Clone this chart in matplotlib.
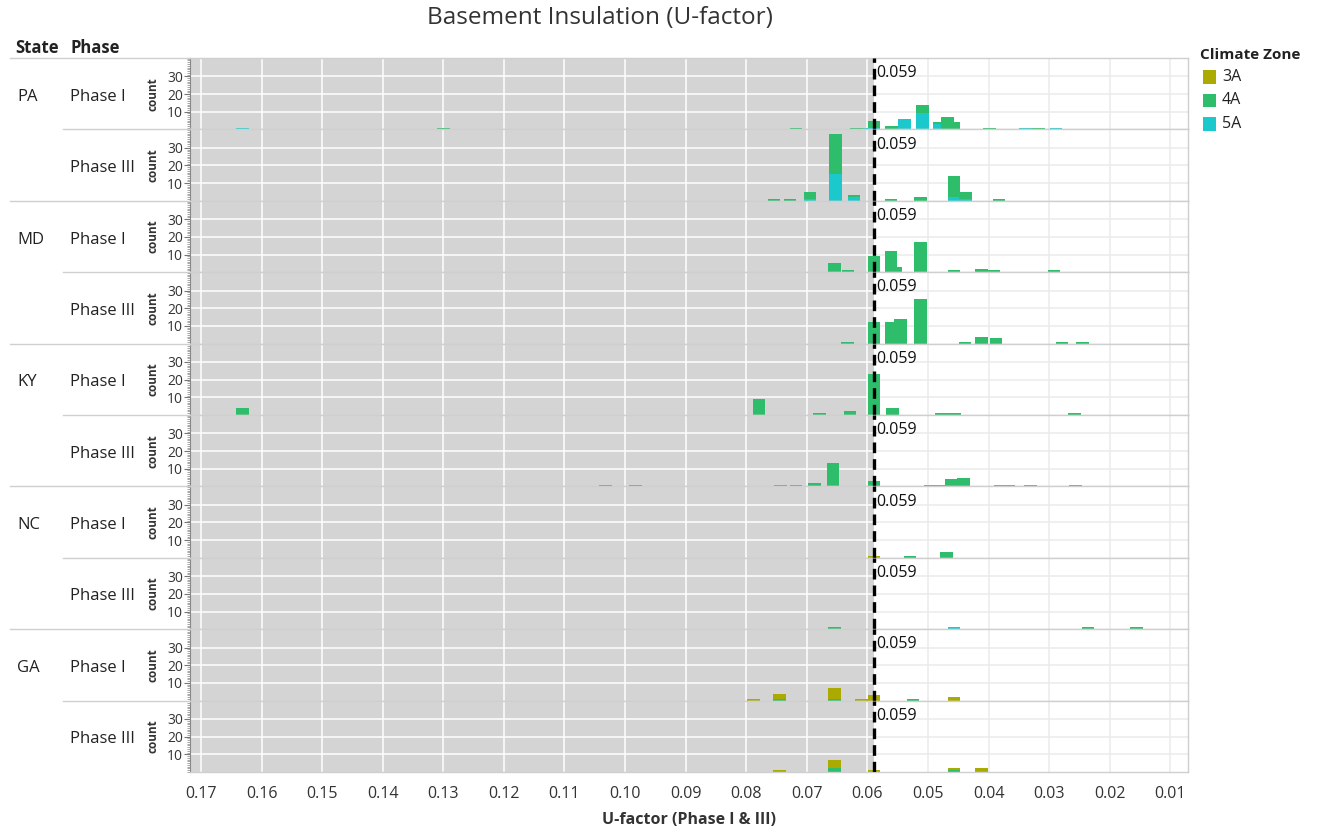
import matplotlib
matplotlib.use("Agg")
import matplotlib.pyplot as plt
import matplotlib.patches as mpatches
from matplotlib.lines import Line2D
from matplotlib.ticker import FixedLocator, MultipleLocator

plt.rcParams["font.family"] = ["Open Sans", "DejaVu Sans"]

INK = "#333333"
SHADE = "#D4D4D4"
GRID_LIGHT = "#EBEBEB"
SEP = "#CFCFCF"

ZONES = ["3A", "4A", "5A"]
ZONE_COLORS = {"3A": "#ABAA00", "4A": "#2DBD6B", "5A": "#1BC8CC"}
STACK_ORDER = ["5A", "4A", "3A"]

STATES = ["PA", "MD", "KY", "NC", "GA"]
PHASES = ["Phase I", "Phase III"]
X_TICKS = [0.17, 0.16, 0.15, 0.14, 0.13, 0.12, 0.11, 0.10, 0.09,
           0.08, 0.07, 0.06, 0.05, 0.04, 0.03, 0.02, 0.01]
Y_TICKS = [10, 20, 30]
THRESHOLD = 0.059

# (U-factor bin, climate zone, count)
pa_phase1 = [(0.1631, "5A", 1), (0.1300, "4A", 1), (0.0718, "4A", 1),
             (0.0618, "4A", 1), (0.0604, "5A", 1),
             (0.0589, "5A", 1), (0.0589, "4A", 4), (0.0560, "4A", 2),
             (0.0539, "5A", 6), (0.0509, "5A", 9), (0.0509, "4A", 5),
             (0.0482, "5A", 3), (0.0482, "4A", 1), (0.0468, "4A", 7),
             (0.0458, "4A", 4), (0.0398, "4A", 1), (0.0339, "5A", 1),
             (0.0318, "4A", 1), (0.0289, "5A", 1)]
pa_phase3 = [(0.0754, "4A", 1), (0.0728, "4A", 1),
             (0.0695, "5A", 1), (0.0695, "4A", 4),
             (0.0653, "5A", 15), (0.0653, "4A", 23),
             (0.0622, "5A", 2), (0.0622, "4A", 1),
             (0.0561, "4A", 1), (0.0513, "4A", 2),
             (0.0457, "5A", 2), (0.0457, "4A", 12),
             (0.0438, "5A", 1), (0.0438, "4A", 4), (0.0383, "4A", 1)]
md_phase1 = [(0.0654, "4A", 5), (0.0632, "4A", 1), (0.0589, "4A", 9),
             (0.0561, "4A", 12), (0.0553, "4A", 3), (0.0513, "4A", 17),
             (0.0457, "4A", 1), (0.0412, "4A", 2), (0.0391, "4A", 1),
             (0.0292, "4A", 1)]
md_phase3 = [(0.0633, "4A", 1), (0.0589, "4A", 12), (0.0561, "4A", 12),
             (0.0546, "4A", 14), (0.0513, "4A", 25), (0.0439, "4A", 1),
             (0.0412, "4A", 4), (0.0388, "4A", 3), (0.0279, "4A", 1),
             (0.0245, "4A", 1)]
ky_phase1 = [(0.1631, "4A", 4), (0.0779, "4A", 9), (0.0679, "4A", 1),
             (0.0629, "4A", 2), (0.0589, "4A", 23), (0.0559, "4A", 4),
             (0.0478, "4A", 1), (0.0456, "4A", 1), (0.0258, "4A", 1)]
ky_phase3 = [(0.1032, "4A", 1), (0.0983, "4A", 1), (0.0743, "4A", 1),
             (0.0718, "4A", 1), (0.0687, "4A", 2), (0.0657, "4A", 13),
             (0.0589, "4A", 3), (0.0497, "4A", 1), (0.0483, "4A", 1),
             (0.0461, "4A", 4), (0.0441, "4A", 5), (0.0381, "4A", 1),
             (0.0367, "4A", 1), (0.0331, "4A", 1), (0.0257, "4A", 1)]
nc_phase1 = [(0.0589, "3A", 1), (0.0530, "4A", 1), (0.0470, "4A", 3)]
nc_phase3 = [(0.0654, "4A", 1), (0.0457, "5A", 1), (0.0236, "4A", 1),
             (0.0156, "4A", 1)]
ga_phase1 = [(0.0788, "3A", 1), (0.0745, "4A", 1), (0.0745, "3A", 3),
             (0.0654, "4A", 1), (0.0654, "3A", 6), (0.0610, "3A", 1),
             (0.0589, "3A", 3), (0.0525, "4A", 1), (0.0457, "3A", 2)]
ga_phase3 = [(0.0745, "3A", 1), (0.0654, "4A", 2), (0.0654, "3A", 5),
             (0.0589, "3A", 1), (0.0457, "4A", 1), (0.0457, "3A", 1),
             (0.0412, "3A", 2)]

PANELS = [pa_phase1, pa_phase3, md_phase1, md_phase3, ky_phase1,
          ky_phase3, nc_phase1, nc_phase3, ga_phase1, ga_phase3]

W, H = 1317, 833
XMIN, XMAX = 0.1718, 0.0071
YMAX = 40.4
BAR_W = 0.0021


def fx(px):
    return px / W


def fy(py):
    return 1 - py / H


fig = plt.figure(figsize=(W / 100, H / 100), dpi=100)
fig.patch.set_facecolor("white")

top_px, bot_px = 58, 772
left_px, right_px = 190, 1188
ph = (bot_px - top_px) / len(PANELS)

axes = []
for i, recs in enumerate(PANELS):
    y0 = top_px + ph * (i + 1)
    ax = fig.add_axes([fx(left_px), fy(y0), (right_px - left_px) / W, ph / H])
    axes.append(ax)
    ax.set_xlim(XMIN, XMAX)
    ax.set_ylim(0, YMAX)
    ax.axvspan(XMIN, THRESHOLD, color=SHADE, zorder=0, lw=0)
    for xt in X_TICKS:
        ax.axvline(xt, color="white" if xt > THRESHOLD else GRID_LIGHT,
                   lw=1.1, zorder=0.5)
    for yt in Y_TICKS:
        ax.hlines(yt, XMIN, THRESHOLD, color="white", lw=1.1, zorder=0.5)
        ax.hlines(yt, THRESHOLD, XMAX, color=GRID_LIGHT, lw=1.1, zorder=0.5)

    # stacked bars, 5A at the bottom, then 4A, then 3A
    bottoms = {}
    for zone in STACK_ORDER:
        xs = [u for u, z, c in recs if z == zone]
        cs = [c for u, z, c in recs if z == zone]
        if not xs:
            continue
        bt = [bottoms.get(u, 0) for u in xs]
        ax.bar(xs, cs, width=BAR_W, bottom=bt, color=ZONE_COLORS[zone],
               edgecolor="none", zorder=2)
        for u, c in zip(xs, cs):
            bottoms[u] = bottoms.get(u, 0) + c

    ax.axvline(THRESHOLD, color="black", lw=2.4, ls=(0, (3.2, 1.8)), zorder=4)
    ax.annotate("0.059", (THRESHOLD, YMAX), xytext=(2, -11),
                textcoords="offset points", fontsize=11.5, color="#111111",
                va="center", ha="left", zorder=5)

    for s in ["top", "right", "bottom"]:
        ax.spines[s].set_color(SEP)
        ax.spines[s].set_linewidth(1.0)
    ax.spines["left"].set_color("#888888")
    ax.yaxis.set_major_locator(FixedLocator(Y_TICKS))
    ax.yaxis.set_minor_locator(MultipleLocator(1))
    ax.tick_params(axis="y", which="major", length=4, color="#777777",
                   labelsize=10, labelcolor=INK, pad=1)
    ax.tick_params(axis="y", which="minor", length=2.2, color="#999999", width=0.6)
    ax.set_ylabel("count", fontsize=8.5, fontweight="bold", color=INK)
    ax.yaxis.set_label_coords(-0.031, 0.5)
    ax.set_xticks(X_TICKS)
    ax.tick_params(axis="x", length=0, labelbottom=(i == len(PANELS) - 1))

bax = axes[-1]
bax.set_xticklabels([f"{t:.2f}" for t in X_TICKS])
bax.tick_params(axis="x", labelsize=11.5, labelcolor=INK, pad=10)
bax.set_xlabel("U-factor (Phase I & III)", fontsize=11.5, fontweight="bold",
               color=INK, labelpad=7)

# row headers
for i in range(len(PANELS)):
    yc = top_px + ph * (i + 0.5) + 3
    fig.text(fx(70), fy(yc), PHASES[i % 2], fontsize=12, color="#222222",
             va="center", ha="left")
    if i % 2 == 0:
        fig.text(fx(17), fy(yc), STATES[i // 2], fontsize=12, color="#222222",
                 va="center", ha="left")

# separators in the header columns
for i in range(len(PANELS)):
    y = top_px + ph * i
    x0 = 10 if i % 2 == 0 else 63
    fig.add_artist(Line2D([fx(x0), fx(left_px)], [fy(y), fy(y)],
                          color=SEP, lw=1.0))

fig.text(fx(15), fy(48), "State", fontsize=12, fontweight="bold",
         color="#222222", va="center")
fig.text(fx(70), fy(48), "Phase", fontsize=12, fontweight="bold",
         color="#222222", va="center")

fig.text(fx(600), fy(18), "Basement Insulation (U-factor)", fontsize=17.5,
         color=INK, ha="center", va="center")

# legend
fig.text(fx(1200), fy(55), "Climate Zone", fontsize=11, fontweight="bold",
         color="#222222", va="center")
for k, zone in enumerate(ZONES):
    yc = 77 + k * 23.5
    fig.add_artist(mpatches.Rectangle((fx(1203), fy(yc + 6.5)), 13 / W, 13 / H,
                                      transform=fig.transFigure,
                                      facecolor=ZONE_COLORS[zone], edgecolor="none"))
    fig.text(fx(1222), fy(yc), zone, fontsize=11.5, color="#222222", va="center")

fig.savefig("out.png", dpi=100, facecolor="white")
